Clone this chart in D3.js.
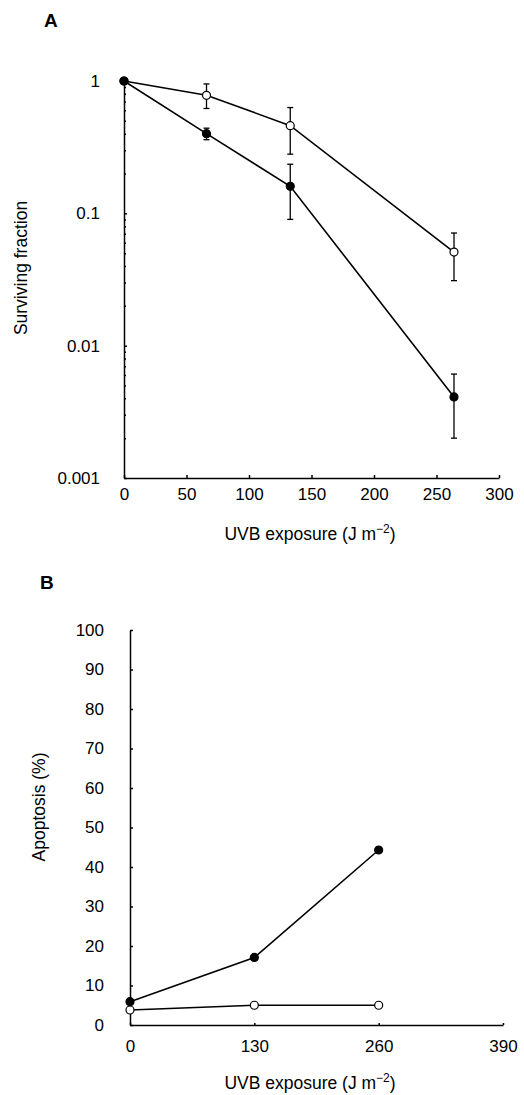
<!DOCTYPE html>
<html>
<head>
<meta charset="utf-8">
<script src="https://cdn.jsdelivr.net/npm/d3@7"></script>
<style>
  body { margin: 0; background: #fff; }
  svg { font-family: "Liberation Sans", Arial, sans-serif; }
  .axis path, .axis line { stroke: #000; stroke-width: 1.5; }
  .axis text { font-size: 17px; fill: #000; }
  .title { font-size: 17.5px; fill: #000; }
  .panel { font-size: 19px; font-weight: bold; }
</style>
</head>
<body>
<div class="chart"></div>
<script>
// Panel A: survival
const doseA = [0, 66, 133, 264];
const survOpen = [1, 0.78, 0.46, 0.051];
const survOpenHi = [1, 0.95, 0.63, 0.071];
const survOpenLo = [1, 0.62, 0.28, 0.031];
const survFilled = [1, 0.40, 0.16, 0.0041];
const survFilledHi = [1, 0.44, 0.235, 0.0061];
const survFilledLo = [1, 0.36, 0.09, 0.0020];
const yTicksA = [1, 0.1, 0.01, 0.001];
const xTicksA = [0, 50, 100, 150, 200, 250, 300];

// Panel B: apoptosis
const doseB = [0, 130, 260];
const apoFilled = [5.9, 17.1, 44.3];
const apoOpen = [3.8, 5.0, 5.0];
const yTicksB = [0, 10, 20, 30, 40, 50, 60, 70, 80, 90, 100];
const xTicksB = [0, 130, 260, 390];

const width = 524, height = 1095;
const svg = d3.select(".chart").append("svg")
    .attr("width", width)
    .attr("height", height);

function xTitle(g, x, y){
  const t = g.append("text").attr("class", "title")
      .attr("x", x).attr("y", y).attr("text-anchor", "middle");
  t.append("tspan").text("UVB exposure (J m");
  t.append("tspan").attr("font-size", 12).attr("dy", -7).text("\u22122");
  t.append("tspan").attr("dy", 7).text(")");
}

function series(g, x, y, xs, ys, filled){
  const pts = xs.map((d, i) => [d, ys[i]]);
  g.append("path")
      .attr("d", d3.line().x(d => x(d[0])).y(d => y(d[1]))(pts))
      .attr("fill", "none")
      .attr("stroke", "#000")
      .attr("stroke-width", 1.6);
  g.selectAll(null).data(pts).enter().append("circle")
      .attr("cx", d => x(d[0]))
      .attr("cy", d => y(d[1]))
      .attr("r", 4)
      .attr("fill", filled ? "#000" : "#fff")
      .attr("stroke", "#000")
      .attr("stroke-width", 1.2);
}

function errorBars(g, x, y, xs, hi, lo){
  const d = xs.map((v, i) => ({x: v, hi: hi[i], lo: lo[i]})).filter(e => e.hi !== e.lo);
  const e = g.selectAll(null).data(d).enter().append("g")
      .attr("stroke", "#000").attr("stroke-width", 1.3);
  e.append("line")
      .attr("x1", d => x(d.x)).attr("x2", d => x(d.x))
      .attr("y1", d => y(d.hi)).attr("y2", d => y(d.lo));
  e.append("line")
      .attr("x1", d => x(d.x) - 3).attr("x2", d => x(d.x) + 3)
      .attr("y1", d => y(d.hi)).attr("y2", d => y(d.hi));
  e.append("line")
      .attr("x1", d => x(d.x) - 3).attr("x2", d => x(d.x) + 3)
      .attr("y1", d => y(d.lo)).attr("y2", d => y(d.lo));
}

// ---- Panel A ----
const xA = d3.scaleLinear().domain([0, 300]).range([124, 499]);
const yA = d3.scaleLog().domain([0.001, 1]).range([478, 81]);

const gA = svg.append("g");

gA.append("text").attr("class", "panel").attr("x", 44).attr("y", 27).text("A");

const minorA = [];
[0.001, 0.01, 0.1].forEach(b => { for (let k = 2; k <= 9; k++) minorA.push(b * k); });

gA.append("g").attr("class", "axis")
    .attr("transform", "translate(" + xA(0) + ",0)")
    .call(d3.axisLeft(yA).tickValues(minorA).tickSizeInner(-2).tickSizeOuter(0).tickFormat(""))
    .call(g => g.select(".domain").remove())
    .selectAll("line").attr("stroke-width", 1);

gA.append("g").attr("class", "axis")
    .attr("transform", "translate(" + xA(0) + ",0)")
    .call(d3.axisLeft(yA).tickValues(yTicksA).tickSizeInner(-3).tickSizeOuter(0).tickPadding(24)
      .tickFormat(d => d === 1 ? "1" : String(d)));

gA.append("g").attr("class", "axis")
    .attr("transform", "translate(0," + yA(0.001) + ")")
    .call(d3.axisBottom(xA).tickValues(xTicksA).tickSizeInner(-3).tickSizeOuter(0).tickPadding(10));

gA.append("text").attr("class", "title")
    .attr("transform", "translate(27,268) rotate(-90)")
    .attr("text-anchor", "middle")
    .text("Surviving fraction");

xTitle(gA, 310, 540);

errorBars(gA, xA, yA, doseA, survOpenHi, survOpenLo);
errorBars(gA, xA, yA, doseA, survFilledHi, survFilledLo);
series(gA, xA, yA, doseA, survOpen, false);
series(gA, xA, yA, doseA, survFilled, true);

// ---- Panel B ----
const xB = d3.scaleLinear().domain([0, 390]).range([130, 503]);
const yB = d3.scaleLinear().domain([0, 100]).range([1025, 630]);

const gB = svg.append("g");

gB.append("text").attr("class", "panel").attr("x", 40).attr("y", 589).text("B");

gB.append("g").attr("class", "axis")
    .attr("transform", "translate(" + xB(0) + ",0)")
    .call(d3.axisLeft(yB).tickValues(yTicksB).tickSizeInner(-3).tickSizeOuter(0).tickPadding(26));

gB.append("g").attr("class", "axis")
    .attr("transform", "translate(0," + yB(0) + ")")
    .call(d3.axisBottom(xB).tickValues(xTicksB).tickSizeInner(-2).tickSizeOuter(0).tickPadding(15));

gB.append("text").attr("class", "title")
    .attr("transform", "translate(45,807) rotate(-90)")
    .attr("text-anchor", "middle")
    .text("Apoptosis (%)");

xTitle(gB, 310, 1089);

series(gB, xB, yB, doseB, apoOpen, false);
series(gB, xB, yB, doseB, apoFilled, true);
</script>
</body>
</html>
